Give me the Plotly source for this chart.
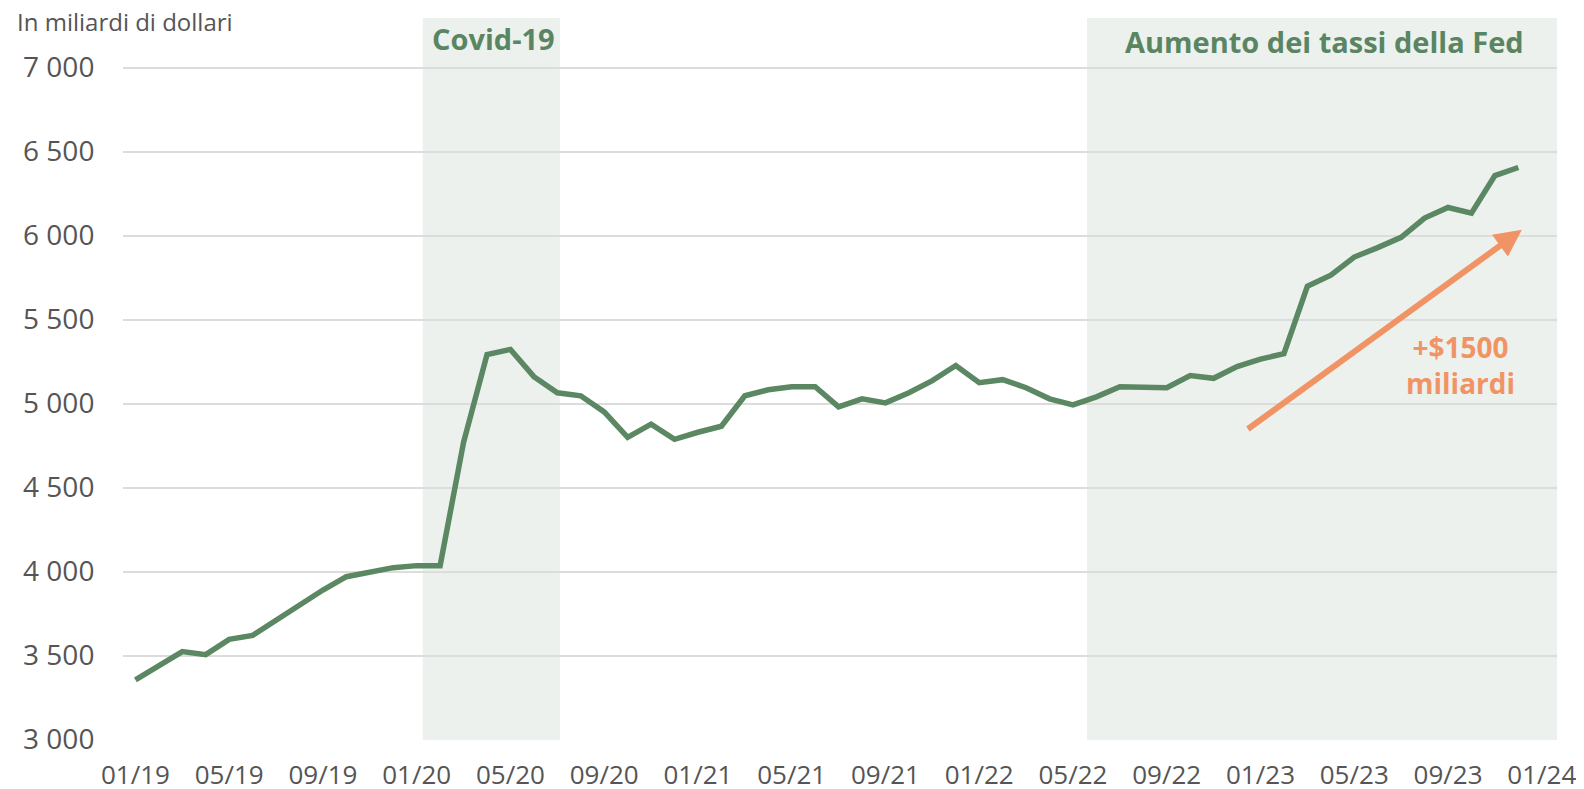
import plotly.graph_objects as go

# Monthly values, 01/2019 .. 12/2023 (billions of dollars)
month_index = list(range(60))
values = [
    3355, 3435, 3523, 3505, 3596, 3620, 3710, 3806, 3890, 3969, 3999, 4023,
    4035, 4035, 4769, 5292, 5322, 5160, 5064, 5046, 4950, 4799, 4877, 4787,
    4829, 4865, 5046, 5082, 5100, 5100, 4980, 5028, 5004, 5064, 5136, 5226,
    5124, 5142, 5094, 5028, 4992, 5040, 5100, 5094, 5094, 5166, 5150, 5220,
    5264, 5297, 5698, 5764, 5872, 5928, 5989, 6104, 6167, 6133, 6357, 6405,
]
tick_positions = [0, 4, 8, 12, 16, 20, 24, 28, 32, 36, 40, 44, 48, 52, 56, 60]
tick_labels = ["01/19", "05/19", "09/19", "01/20", "05/20", "09/20", "01/21", "05/21",
               "09/21", "01/22", "05/22", "09/22", "01/23", "05/23", "09/23", "01/24"]
y_ticks = [3000, 3500, 4000, 4500, 5000, 5500, 6000, 6500, 7000]

covid_span = [12.26, 18.11]
fed_span = [40.6, 61.5]

GREEN = "#5b8763"
TEXT_GREEN = "#5a8563"
SHADE = "#edf1ed"
ORANGE = "#f09466"
GRAY = "#555555"
FONT = "Open Sans"

fig = go.Figure()
fig.add_trace(go.Scatter(
    x=month_index, y=values, mode="lines",
    line=dict(color=GREEN, width=5.5),
    hoverinfo="skip", showlegend=False,
))

for x0, x1 in (covid_span, fed_span):
    fig.add_shape(type="rect", xref="x", yref="paper", x0=x0, x1=x1, y0=0, y1=1,
                  fillcolor=SHADE, line=dict(width=0), layer="below")

fig.add_annotation(x=15.26, y=0.971, xref="x", yref="paper", text="<b>Covid-19</b>",
                   showarrow=False, font=dict(family=FONT, size=29, color=TEXT_GREEN),
                   xanchor="center", yanchor="middle")
fig.add_annotation(x=50.71, y=0.968, xref="x", yref="paper",
                   text="<b>Aumento dei tassi della Fed</b>",
                   showarrow=False, font=dict(family=FONT, size=29, color=TEXT_GREEN),
                   xanchor="center", yanchor="middle")
fig.add_annotation(x=-0.0753, y=0.9945, xref="paper", yref="paper",
                   text="In miliardi di dollari", showarrow=False,
                   font=dict(family=FONT, size=24, color=GRAY),
                   xanchor="left", yanchor="middle")

# Arrow +1500
fig.add_annotation(x=59.15, y=6034, ax=47.4, ay=4842, xref="x", yref="y",
                   axref="x", ayref="y", text="", showarrow=True,
                   arrowhead=2, arrowsize=0.9, arrowwidth=6, arrowcolor=ORANGE,
                   standoff=0, startstandoff=0)
fig.add_annotation(x=56.55, y=5227, xref="x", yref="y",
                   text="<b>+$1500<br>miliardi</b>", showarrow=False, align="center",
                   font=dict(family=FONT, size=28, color=ORANGE),
                   xanchor="center", yanchor="middle")

fig.update_layout(
    width=1576, height=781,
    margin=dict(l=115, r=27, t=10, b=49),
    paper_bgcolor="white", plot_bgcolor="white",
    separators=". ",
    font=dict(family=FONT, color=GRAY),
    showlegend=False,
)
fig.update_xaxes(
    range=[-0.53, 60.65], tickvals=tick_positions, ticktext=tick_labels,
    showgrid=False, zeroline=False, showline=False, automargin=False,
    ticks="outside", ticklen=12, tickcolor="rgba(0,0,0,0)",
    tickfont=dict(family=FONT, size=26, color=GRAY),
)
fig.update_yaxes(
    range=[2997, 7295], tickvals=y_ticks, tickformat=",.0f",
    showgrid=True, gridcolor="#dcdcdc", gridwidth=2, zeroline=False, showline=False,
    automargin=False,
    ticks="outside", ticklen=22, tickcolor="rgba(0,0,0,0)",
    tickfont=dict(family=FONT, size=28, color=GRAY),
)

fig.write_html("out.html")
